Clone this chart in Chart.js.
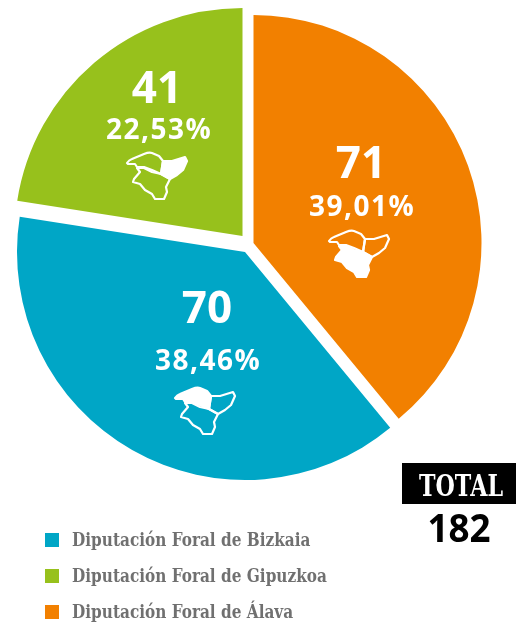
<!DOCTYPE html>
<html><head><meta charset="utf-8">
<script src="https://cdn.jsdelivr.net/npm/chart.js@4"></script>
<style>html,body{margin:0;padding:0;background:#fff}#w{position:relative;width:516px;height:626px}canvas{display:block}</style>
</head><body><div id="w"><canvas id="c" width="516" height="626"></canvas></div>
<script>
const categories = ['Diputación Foral de Álava','Diputación Foral de Bizkaia','Diputación Foral de Gipuzkoa'];
const seats = [71,70,41];
const percentLabels = ['39,01%','38,46%','22,53%'];
const colors = ['#f28000','#00a6c6','#97c11c'];
const legendOrder = [1,2,0];
const totalTitle = 'TOTAL';
const totalValue = '182';

const sliceShift = [[6.5,-2],[-2,7],[-4.5,-9]];
const labelCfg = [
  {cx:361,numY:178,pctX:362,pctY:216,ix:329,iy:230},
  {cx:207,numY:323,pctX:208,pctY:370,ix:175,iy:387},
  {cx:157,numY:103,pctX:159,pctY:139,ix:127,iy:152}
];
const biz = 'M0 11 Q2 8 5 7 L17 2 Q22 0 25 1 L32 4 L36 9 L34 22 L25 18 L17 15 L10 15 L8 12 L1 12 Z';
const gip = 'M36 9 L45 9 L58 5 L60 9 L56 18 L50 23 L43 27 L34 22 Z';
const ala = 'M10 16 L13 20 L7 27 L6 30 L13 32 L18 38 L25 42 L28 47 L37 47 L40 40 L39 35 L43 27 L34 22 L25 20 L17 16 Z';
const provinces = [ala,biz,gip];
const numFont = '700 44px "Open Sans"';
const pctFont = '700 28px "Open Sans"';
const slab = '"DejaVu Serif"';

function squeezed(g,text,x,y,sx){
  g.save();g.translate(x,y);g.scale(sx,1);g.fillText(text,0,0);g.restore();
}
const decor = {
  id:'decor',
  afterDatasetsUpdate(chart){
    chart.getDatasetMeta(0).data.forEach((a,i)=>{a.x+=sliceShift[i][0];a.y+=sliceShift[i][1];});
  },
  afterDraw(chart){
    const g = chart.ctx;
    g.save();
    g.textBaseline='alphabetic';
    labelCfg.forEach((l,i)=>{
      g.fillStyle='#fff';g.textAlign='center';
      g.font=numFont;g.letterSpacing='0px';
      g.fillText(String(seats[i]),l.cx,l.numY);
      g.font=pctFont;g.letterSpacing='1.5px';
      g.fillText(percentLabels[i],l.pctX,l.pctY);
      g.letterSpacing='0px';
      g.save();
      g.translate(l.ix,l.iy);
      g.strokeStyle='#fff';g.lineWidth=2.2;g.lineJoin='round';
      provinces.forEach((p,k)=>{
        const P=new Path2D(p);
        g.stroke(P);
        if(k===i) g.fill(P);
      });
      g.restore();
    });
    // legend
    g.textAlign='left';
    legendOrder.forEach((k,r)=>{
      const y=533+r*36;
      g.fillStyle=colors[k];g.fillRect(45,y,14,14);
      g.fillStyle='#707070';g.font='bold 18px '+slab;
      squeezed(g,categories[k],72,y+13,0.85);
    });
    // total
    g.fillStyle='#000';g.fillRect(402,463,114,41);
    g.textAlign='center';
    g.fillStyle='#fff';g.font='bold 30px '+slab;
    squeezed(g,totalTitle,461,496,0.74);
    g.fillStyle='#000';g.font='700 40px "Open Sans"';
    squeezed(g,totalValue,459,542,0.92);
    g.restore();
  }
};
new Chart(document.getElementById('c'),{
  type:'pie',
  data:{labels:categories,datasets:[{data:seats,backgroundColor:colors,borderWidth:0,radius:228}]},
  options:{responsive:false,animation:false,
    layout:{padding:{left:0,top:0,right:22,bottom:136}},
    plugins:{legend:{display:false},tooltip:{enabled:false}}},
  plugins:[decor]
});
</script></body></html>
